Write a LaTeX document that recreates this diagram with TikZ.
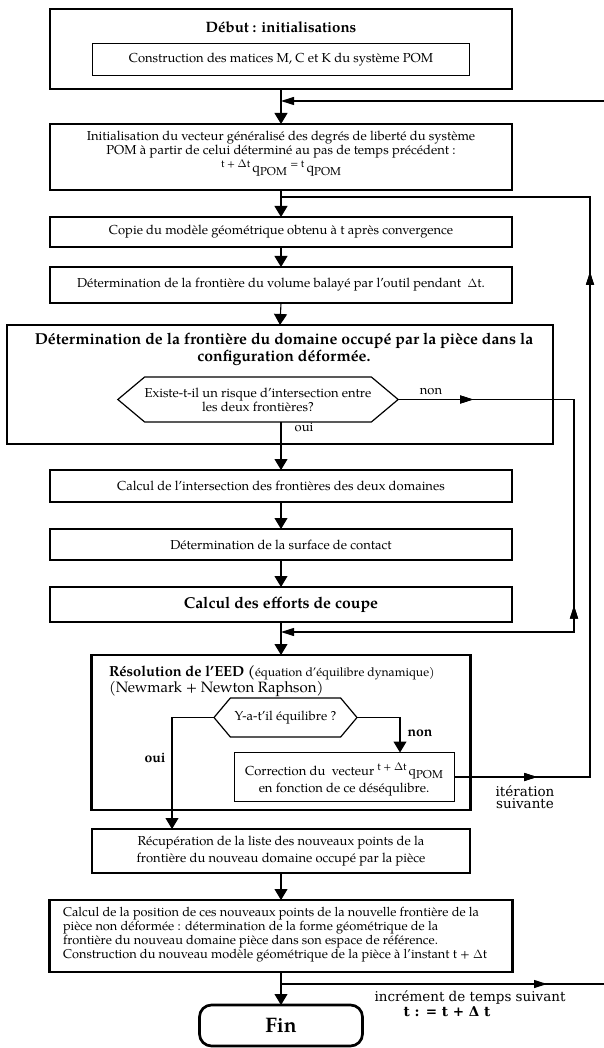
\documentclass[tikz,border=0pt]{standalone}
\usepackage{fontspec}
\setmainfont{TeX Gyre Pagella}
\newfontfamily\centf{DejaVu Serif}
\usetikzlibrary{arrows.meta,shapes.symbols,decorations.markings}
\newcommand{\bodyf}{\fontsize{13}{12.8}\selectfont}
\newcommand{\ttlf}{\fontsize{15}{15}\selectfont\bfseries}
\newcommand{\bigf}{\fontsize{15.8}{15}\selectfont\bfseries}
\newcommand{\finf}{\fontsize{21}{22}\selectfont\bfseries}
\newcommand{\sidef}{\centf\fontsize{13.5}{12}\selectfont}
\newcommand{\mysup}[1]{\raisebox{5pt}{\fontsize{10.5}{10.5}\selectfont #1}}
\newcommand{\qpom}{q\raisebox{-3pt}{\fontsize{11.5}{11.5}\selectfont POM}}
\begin{document}
\begin{tikzpicture}[x=1pt,y=-1pt,
  every node/.style={inner sep=0pt, outer sep=0pt},
  thickbox/.style={draw, line width=2.7pt},
  medbox/.style={draw, line width=1.9pt},
  thinbox/.style={draw, line width=1pt},
  hexa/.style={draw, line width=1.2pt, shape=signal, signal to=east and west},
  ln/.style={line width=1.1pt},
  marr/.style={ln, -{Triangle[length=11pt,width=13pt]}},
  sarr/.style={ln, -{Triangle[length=13pt,width=8pt]}},
  fmark/.style={postaction={decorate}, decoration={markings, mark=at position #1 with {\arrow{Triangle[length=13pt,width=8pt]}}}},
  rmark/.style={postaction={decorate}, decoration={markings, mark=at position #1 with {\arrowreversed{Triangle[length=13pt,width=8pt]}}}}
]
\fill[white] (0,0) rectangle (604,1048);
\useasboundingbox (0,0) rectangle (604,1048);

% Box 1
\node[thickbox, minimum width=462, minimum height=80] (b1) at (281,49) {};
\node[font=\ttlf] (t1) at (281,27) {Début : initialisations};
\node[thinbox, minimum width=377, minimum height=32, font=\bodyf] (b1i) at (281,60) {Construction des matices M, C et K du système POM};

% Box 2
\node[thickbox, minimum width=462, minimum height=66] (b2) at (281,157) {};
\node[font=\bodyf, align=center] (t2) at (281,144.5) {Initialisation du vecteur généralisé des degrés de liberté du système\\POM à partir de celui déterminé au pas de temps précédent :};
\node[font=\fontsize{13.5}{13.5}\selectfont] (f2) at (281,168) {\mysup{t + $\Delta$t}\,\qpom\ \mysup{= t}\,\qpom};

% Box 3, 4
\node[thickbox, minimum width=462, minimum height=30, font=\bodyf] (b3) at (281,232) {Copie du modèle géométrique obtenu à t après convergence};
\node[thickbox, minimum width=462, minimum height=36, font=\bodyf] (b4) at (281,285) {Détermination de la frontière du volume balayé par l'outil pendant \ $\Delta$t.};

% Box 5
\node[thickbox, minimum width=546, minimum height=119] (b5) at (280,384.5) {};
\node[font=\bigf, align=center] (t5) at (284,349.5) {Détermination de la frontière du domaine occupé par la pièce dans la\\configuration déformée.};
\node[hexa, minimum width=274, minimum height=45, signal pointer angle=80, align=center, font=\bodyf] (h1) at (258,399.5) {Existe-t-il un risque d'intersection entre\\les deux frontières?};
\node[font=\bodyf] (lnon1) at (431,392) {non};
\node[font=\bodyf] (loui1) at (304,427) {oui};

% Boxes 6,7,8
\node[medbox, minimum width=462, minimum height=32, font=\bodyf] (b6) at (281,486) {Calcul de l'intersection des frontières des deux domaines};
\node[medbox, minimum width=462, minimum height=31, font=\bodyf] (b7) at (281,544.5) {Détermination de la surface de contact};
\node[thickbox, minimum width=462, minimum height=35, font=\bigf] (b8) at (281,604.5) {Calcul des efforts de coupe};

% Box 9
\node[thickbox, minimum width=379, minimum height=155] (b9) at (281,732.5) {};
\node[anchor=west, font=\fontsize{14.6}{15}\selectfont] (t9a) at (109,673) {\textbf{Résolution de l'EED (}{\fontsize{12.2}{13}\selectfont équation d'équilibre dynamique)}};
\node[anchor=west, font=\fontsize{15}{15}\selectfont] (t9b) at (109,689) {(Newmark + Newton Raphson)};
\node[hexa, minimum width=143, minimum height=39, signal pointer angle=100, font=\bodyf] (h2) at (285.5,717.5) {Y-a-t'il équilibre ?};
\node[thinbox, minimum width=220, minimum height=49] (b10) at (344,777) {};
\node[font=\bodyf] (t10a) at (344,771) {Correction du \ vecteur \mysup{t + $\Delta$t}\,\qpom};
\node[font=\bodyf] (t10b) at (344,790) {en fonction de ce déséqulibre.};
\node[font=\fontsize{14}{14}\selectfont\bfseries] (lnon2) at (420,733) {non};
\node[font=\fontsize{14}{14}\selectfont\bfseries] (loui2) at (155,758) {oui};
\node[font=\sidef, align=center] (lit) at (525,797) {itération\\suivante};

% Box 11, 12, Fin
\node[medbox, minimum width=378, minimum height=44, align=center, font=\fontsize{13}{16.5}\selectfont] (b11) at (281,851) {Récupération de la liste des nouveaux points de la\\frontière du nouveau domaine occupé par la pièce};
\node[thickbox, minimum width=463, minimum height=72] (b12) at (281,936) {};
\node[anchor=west, align=left, font=\fontsize{12.8}{12.4}\selectfont] (t12) at (63,935) {Calcul de la position de ces nouveaux points de la nouvelle frontière de la\\pièce non déformée : détermination de la forme géométrique de la\\frontière du nouveau domaine pièce dans son espace de référence.\\Construction du nouveau modèle géométrique de la pièce à l'instant t + $\Delta$t};
\node[draw, line width=2.7pt, rounded corners=12pt, minimum width=163, minimum height=41, font=\finf] (fin) at (281,1025.5) {Fin};
\node[font=\sidef] (linc) at (470,997) {incrément de temps suivant};
\node[font=\sidef\bfseries] (lt) at (447,1012) {t : = t + Δ t};

% coordinates
\coordinate (j1) at (281,101);
\coordinate (e1) at (604,101);
\coordinate (j2) at (281,197);
\coordinate (r1) at (590,197);
\coordinate (r2) at (590,777);
\coordinate (n5) at (574,399.5);
\coordinate (n6) at (574,632);
\coordinate (j3) at (281,632);
\coordinate (n1) at (400,717.5);
\coordinate (o1) at (172,717.5);
\coordinate (j4) at (281,984);
\coordinate (e4) at (604,984);

% connectors
\draw[marr] (b1.south) -- (b2.north);
\draw[sarr] (e1) -- (j1);
\draw[marr] (b2.south) -- (b3.north);
\draw[ln, fmark=83pt, fmark=641pt] (b10.east) -- (r2) -- (r1) -- (j2);
\draw[marr] (b3.south) -- (b4.north);
\draw[marr] (b4.south) -- (b5.north);
\draw[marr] (h1.south -| b6.north) -- (b6.north);
\draw[ln, fmark=75pt, rmark=382pt, -{Triangle[length=13pt,width=8pt]}] (h1.east) -- (n5) -- (n6) -- (j3);
\draw[marr] (b6.south) -- (b7.north);
\draw[marr] (b7.south) -- (b8.north);
\draw[marr] (b8.south) -- (b9.north);
\draw[marr] (h2.east) -- (n1) -- (n1 |- b10.north);
\draw[marr] (h2.west) -- (o1) -- (o1 |- b11.north);
\draw[marr] (b11.south) -- (b12.north);
\draw[marr] (b12.south) -- (fin.north);
\draw[ln, fmark=266pt] (j4) -- (e4);
\end{tikzpicture}
\end{document}
